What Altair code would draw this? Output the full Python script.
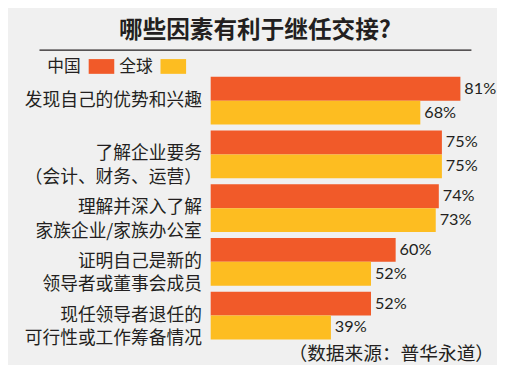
import altair as alt
import pandas as pd

categories = [
    "发现自己的优势和兴趣",
    "了解企业要务\n（会计、财务、运营）",
    "理解并深入了解\n家族企业/家族办公室",
    "证明自己是新的\n领导者或董事会成员",
    "现任领导者退任的\n可行性或工作筹备情况",
]
series_names = ["中国", "全球"]
china = [81, 75, 74, 60, 52]
world = [68, 75, 73, 52, 39]
colors = ["#f15a29", "#fdbd21"]

title_text = "哪些因素有利于继任交接?"
source_text = "（数据来源：普华永道）"

rows = []
for c, a, b in zip(categories, china, world):
    rows.append({"cat": c, "series": series_names[0], "value": a, "label": f"{a}%"})
    rows.append({"cat": c, "series": series_names[1], "value": b, "label": f"{b}%"})
df = pd.DataFrame(rows)
cat_df = pd.DataFrame({"cat": categories})
legend_df = pd.DataFrame({"series": series_names})
one = pd.DataFrame({"k": [0]})

CJK = "Noto Sans CJK SC"
TXT = "#231f20"

yenc = alt.Y("cat:N", sort=categories, axis=None,
             scale=alt.Scale(paddingInner=0.11, paddingOuter=0.055))
xenc = alt.X("value:Q", scale=alt.Scale(domain=[0, 90]), axis=None)
color_scale = alt.Scale(domain=series_names, range=colors)

bars = alt.Chart(df).mark_bar().encode(
    y=yenc,
    yOffset=alt.YOffset("series:N", sort=series_names, scale=alt.Scale(paddingInner=0, paddingOuter=0)),
    x=xenc,
    color=alt.Color("series:N", scale=color_scale, legend=None),
)

values = alt.Chart(df).mark_text(align="left", baseline="middle", dx=4,
                                 font="Lato", fontSize=16.5, color=TXT).encode(
    y=yenc,
    yOffset=alt.YOffset("series:N", sort=series_names),
    x=xenc,
    text="label:N",
)

cat_labels = alt.Chart(cat_df).mark_text(align="right", baseline="middle", lineBreak="\n",
                                         lineHeight=24, font=CJK, fontSize=18, color=TXT).encode(
    y=yenc,
    x=alt.value(-9),
    text="cat:N",
)

title = alt.Chart(one).mark_text(align="center", baseline="middle", font=CJK, fontSize=24,
                                 fontWeight="bold", color=TXT).encode(
    x=alt.value(45), y=alt.value(-43), text=alt.value(title_text))

rule = alt.Chart(one).mark_rule(color=TXT, strokeWidth=1.3).encode(
    x=alt.value(-174), x2=alt.value(265), y=alt.value(-24))

leg_text = alt.Chart(legend_df).mark_text(align="left", baseline="middle", font=CJK,
                                          fontSize=17, color=TXT).encode(
    x=alt.X("series:N", sort=series_names, axis=None,
            scale=alt.Scale(type="point", domain=series_names, range=[-166, -93], padding=0)),
    y=alt.value(-7),
    text="series:N",
)
leg_box = alt.Chart(legend_df).mark_rect(height=15, width=26).encode(
    x=alt.X("series:N", sort=series_names, axis=None,
            scale=alt.Scale(type="point", domain=series_names, range=[-111, -38], padding=0)),
    y=alt.value(-7.5),
    color=alt.Color("series:N", scale=color_scale, legend=None),
)

source = alt.Chart(one).mark_text(align="right", baseline="middle", font=CJK, fontSize=19,
                                  color=TXT).encode(
    x=alt.value(288), y=alt.value(285), text=alt.value(source_text))

chart = alt.layer(bars, values, cat_labels, title, rule, leg_text, leg_box, source).resolve_scale(
    x="independent"
).properties(
    width=282, height=273,
    autosize=alt.AutoSizeParams(type="none"),
    padding={"left": 206, "top": 64, "right": 9, "bottom": 20},
    background="#f0f0f0",
).configure_view(stroke=None)

chart.save("out.html", embed_options={"renderer": "svg", "actions": False})
